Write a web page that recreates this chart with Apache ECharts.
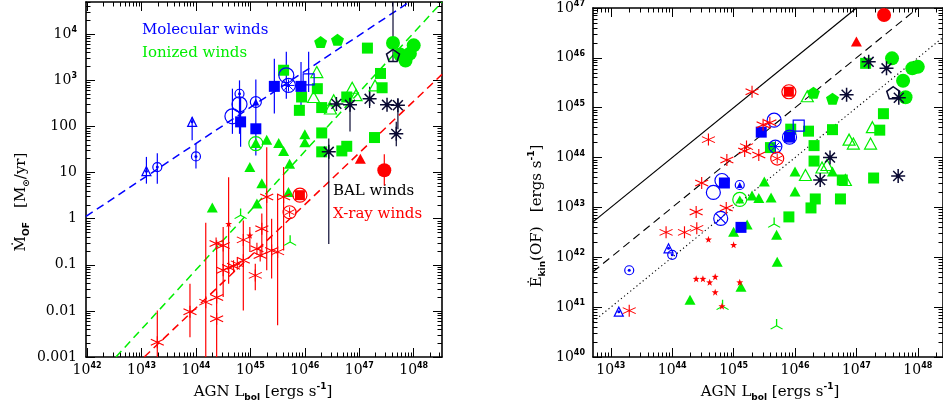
<!DOCTYPE html>
<html><head><meta charset="utf-8">
<script src="https://cdn.jsdelivr.net/npm/echarts@6/dist/echarts.min.js"></script>
<style>html,body{margin:0;padding:0;background:#fff}#c{width:943px;height:410px}</style>
</head><body><div id="c"></div>
<script>
// ---------------- DATA (log10 values) ----------------
// LEFT PANEL: x = log10 Lbol, y = log10 Mdot
const molSqL      = [[44.82,2.10],[45.10,1.95],[45.44,2.87],[45.93,2.87]];
const molOpenCircL= [[44.67,2.22],[44.80,2.48],[45.66,3.11]];
const molCircDotL = [[43.29,1.12],[44.00,1.35],[44.80,2.71]];
const molTriDotL  = [[43.09,1.03],[43.93,2.10]];
const molCircTriL = [[45.10,2.53]];
const molWheelL   = [[45.70,2.89]];
const molOpenSqL  = [[46.07,3.02]];
const molErrL = [[43.09,0.76,1.34],[43.29,0.76,1.42],[43.93,1.70,2.20],[44.00,1.09,1.63],[44.67,1.84,2.82],
  [44.80,1.84,3.00],[44.82,1.56,2.64],[45.10,1.37,3.02],[45.44,2.28,3.47],[45.66,2.60,3.62],[45.93,2.36,3.40],[46.07,2.75,3.62]];

const ionPentL = [[46.29,3.83],[46.60,3.88]];
const ionCircL = [[47.62,3.81],[47.75,3.56],[47.85,3.43],[48.00,3.76],[47.93,3.58]];
const ionSqL = [[45.61,3.22],[45.94,2.64],[45.90,2.35],[46.23,2.82],[46.31,2.41],[46.31,1.86],[46.31,1.45],
  [46.77,2.64],[46.77,1.57],[46.68,1.47],[47.15,3.70],[47.39,3.15],[47.42,2.84],[47.28,1.76]];
const ionOpenTriL = [[46.22,3.18],[46.16,2.64],[46.53,2.57],[46.47,2.39],[46.87,2.84],[46.94,2.68],[47.29,2.89]];
const ionTriL = [[45.10,1.64],[45.30,1.71],[45.52,1.64],[45.61,1.47],[45.72,1.19],[46.00,1.83],[46.00,1.66],
  [44.99,1.12],[45.21,0.77],[45.12,0.33],[44.30,0.24],[45.70,0.58]];
const ionOpenCircL = [[45.10,1.63]];
const ionTri3L = [[44.82,0.11],[45.73,-0.47]];

const balAstL = [[46.58,2.49],[46.83,2.47],[47.19,2.60],[47.51,2.47],[47.71,2.46],[47.68,1.84],[46.44,1.45]];
const balPentL = [[47.62,3.54]];
const balErrL = [[46.83,1.89,2.60],[47.19,2.40,2.86],[47.71,1.94,2.60],[47.68,1.57,2.10],[46.44,-0.55,1.74],[47.62,3.40,4.70]];

const xrayAstL = [[43.29,-2.68],[43.89,-2.02],[44.18,-1.81],[44.38,-1.71],[44.38,-2.17],[44.37,-0.54],[44.50,-0.58],
  [44.50,-1.12],[44.60,-1.06],[44.69,-1.03],[44.76,-0.98],[44.87,-0.90],[44.87,-0.46],[45.09,-1.23],[45.12,-0.65],
  [45.21,-0.22],[45.18,-0.80],[45.30,0.47],[45.39,-0.69],[45.50,-0.72],[45.61,0.47]];
const xrayStarL = [[44.60,-0.11],[44.99,-0.36]];
const xrayCircAstL = [[45.72,0.14]];
const xraySqCircL = [[45.91,0.51]];
const xrayTriL = [[47.02,1.30]];
const xrayCircL = [[47.46,1.05]];
const xrayErrL = [[43.29,-3,-1.99],[43.89,-2.57,-1.41],[44.18,-3,-0.09],[44.38,-3,-0.47],[44.50,-1.70,-0.18],
  [44.60,-1.41,0.90],[44.87,-1.99,-0.04],[44.99,-0.72,-0.18],[45.09,-1.55,-0.98],[45.21,-0.83,0.11],
  [45.30,-1.12,1.55],[45.39,-1.30,0.00],[45.50,-2.31,0.54],[45.61,-0.69,1.12],[47.46,0.72,1.40]];

// fits (endpoints)
const fitMolL = [[41.98,0.05],[47.92,4.70]];
const fitIonL = [[42.53,-3],[48.52,4.70]];
const fitXrayL = [[43.05,-3],[48.52,3.13]];

// RIGHT PANEL: x = log10 Lbol, y = log10 Ekin
const xrayCircR = [[47.45,46.86]];
const xrayTriR = [[47.00,46.33]];
const xraySqCircR = [[45.90,45.32]];
const xrayAstR = [[45.30,45.32],[45.48,44.66],[45.59,44.70],[44.59,44.36],[45.21,44.22],[45.18,44.13],[45.41,44.05],
  [44.89,43.95],[44.48,43.49],[44.88,42.99],[44.39,42.91],[44.40,42.58],[43.90,42.50],[44.20,42.50],[43.30,40.93]];
const xrayCircAstR = [[45.71,43.98]];
const xrayStarR = [[44.59,42.36],[45.00,42.25],[44.39,41.57],[44.50,41.57],[44.61,41.50],[44.70,41.61],[44.70,41.30],
  [45.10,41.50],[44.81,41.02]];

const molSqR = [[45.45,44.51],[45.91,44.41],[44.85,43.49],[45.12,42.60]];
const molOpenCircR = [[45.66,44.75],[45.91,44.41],[44.67,43.30],[44.81,43.54]];
const molWheelR = [[45.68,44.22]];
const molOpenSqR = [[46.06,44.64]];
const molCircXR = [[44.79,42.78]];
const molCircTriR = [[45.10,43.45]];
const molTriDotR = [[43.94,42.18],[43.13,40.91]];
const molCircDotR = [[44.00,42.05],[43.30,41.74]];

const ionSqR = [[47.15,45.89],[45.93,44.57],[46.22,44.53],[46.61,44.56],[47.44,44.88],[47.38,44.55],[45.60,44.20],
  [46.31,44.24],[46.31,43.93],[46.77,43.55],[47.28,43.59],[46.33,43.17],[46.26,42.99],[46.74,43.17],[45.90,42.81]];
const ionCircR = [[47.58,45.99],[47.91,45.79],[48.00,45.82],[47.76,45.54],[47.80,45.21]];
const ionPentR = [[46.30,45.30],[46.61,45.18]];
const ionOpenTriR = [[46.20,45.23],[47.26,44.61],[46.88,44.36],[46.95,44.28],[47.23,44.28],[46.44,43.80],
  [46.52,43.85],[46.17,43.65],[46.82,43.55]];
const ionTriR = [[46.00,43.72],[46.61,43.72],[46.00,43.32],[45.50,43.52],[45.30,43.24],[45.41,43.19],[45.61,43.20],
  [45.22,42.66],[45.00,42.51],[45.70,42.45],[45.71,41.91],[45.12,41.41],[44.29,41.15]];
const ionOpenCircR = [[45.10,43.16]];
const ionTri3R = [[45.66,42.70],[44.82,41.05],[45.70,40.66]];

const balAstR = [[46.84,45.26],[47.49,45.79],[47.20,45.92],[46.57,44.00],[46.41,43.55],[47.68,43.63],[47.69,45.20]];
const balPentR = [[47.60,45.30]];

const fitSolidR = [[42.71,42.71],[47.00,47.00]];
const fitDashR = [[42.71,41.71],[48.00,47.00]];
const fitDotR = [[42.71,40.71],[48.41,46.41]];

// tick labels
const leftYTickText = ['0.001','0.01','0.1','1','10','100','10^3','10^4'];

// ---------------- CHART ----------------
const BLUE='#0000ff', GREEN='#00ee00', RED='#ff0000', BAL='#0a0a33', BLACK='#000';
const SYM = {
  ast6: 'path://M0,-10L0,10M-8.66,-5L8.66,5M-8.66,5L8.66,-5',
  ast8: 'path://M0,-10L0,10M-10,0L10,0M-7.07,-7.07L7.07,7.07M-7.07,7.07L7.07,-7.07',
  star5: 'path://M0,-10L2.35,-3.24L9.51,-3.09L3.8,1.24L5.88,8.09L0,4L-5.88,8.09L-3.8,1.24L-9.51,-3.09L-2.35,-3.24Z',
  tri3: 'path://M0,0L0,-10M0,0L-8.66,5M0,0L8.66,5',
  pent: 'path://M0,-10L9.51,-3.09L5.88,8.09L-5.88,8.09L-9.51,-3.09Z',
  xc: 'path://M-7,-7L7,7M-7,7L7,-7'
};
const series = [];
function ax(p){ return {xAxisIndex: p*4, yAxisIndex: p*4}; }
function filled(p, data, symbol, size, color, z){
  series.push(Object.assign({type:'scatter', data, symbol, symbolSize:size, silent:true, animation:false,
    itemStyle:{color, borderWidth:0, opacity:1}, z: z||5}, ax(p)));
}
function open(p, data, symbol, size, color, bw, z){
  series.push(Object.assign({type:'scatter', data, symbol, symbolSize:size, silent:true, animation:false,
    itemStyle:{color:'rgba(0,0,0,0)', borderColor:color, borderWidth:bw||1.2, opacity:1}, z: z||5}, ax(p)));
}
function errs(p, data, color, w){
  series.push(Object.assign({type:'custom', data, silent:true, animation:false, clip:true, z:3,
    encode:{x:0, y:[1,2]},
    renderItem:function(params, api){
      const a = api.coord([api.value(0), api.value(1)]);
      const b = api.coord([api.value(0), api.value(2)]);
      return {type:'line', shape:{x1:a[0], y1:a[1], x2:b[0], y2:b[1]}, style:{stroke:color, lineWidth:w||1.2}};
    }}, ax(p)));
}
function fit(p, data, color, type, w){
  series.push(Object.assign({type:'line', data, symbol:'none', silent:true, animation:false, z:2,
    lineStyle:{color, width:w, type}}, ax(p)));
}

// left panel
errs(0, molErrL, BLUE); errs(0, balErrL, BAL); errs(0, xrayErrL, RED);
fit(0, fitMolL, BLUE, [8,5], 1.5); fit(0, fitIonL, GREEN, [8,5], 1.5); fit(0, fitXrayL, RED, [8,5], 1.5);
filled(0, ionPentL, SYM.pent, [13,12], GREEN);
filled(0, ionCircL, 'circle', 14, GREEN);
filled(0, ionSqL, 'rect', 11, GREEN);
open(0, ionOpenTriL, 'triangle', [12,11], GREEN, 1.2);
filled(0, ionTriL, 'triangle', [11,10], GREEN);
open(0, ionOpenCircL, 'circle', 14, GREEN, 1.2);
open(0, ionTri3L, SYM.tri3, [12,10], GREEN, 1.2);
filled(0, molSqL, 'rect', 11, BLUE, 6);
open(0, molOpenCircL, 'circle', 15, BLUE, 1.2, 6);
open(0, molCircDotL, 'circle', 9, BLUE, 1.2, 6); filled(0, molCircDotL, 'circle', 3, BLUE, 6);
open(0, molTriDotL, 'triangle', [9,9], BLUE, 1.2, 6); filled(0, molTriDotL, 'circle', 3, BLUE, 6);
open(0, molCircTriL, 'circle', 11, BLUE, 1.2, 6); filled(0, molCircTriL, 'triangle', [7,7], BLUE, 6);
open(0, molWheelL, 'circle', 14, BLUE, 1.2, 6); open(0, molWheelL, SYM.ast8, 12, BLUE, 1, 6);
open(0, molOpenSqL, 'rect', 11, BLUE, 1.2, 6);
open(0, balAstL, SYM.ast8, 14, BAL, 1.5, 7); filled(0, balAstL, 'circle', 4, BAL, 7);
open(0, balPentL, SYM.pent, [13,12], BAL, 1.5, 7);
open(0, xrayAstL, SYM.ast6, [13,12], RED, 1.1, 7);
filled(0, xrayStarL, SYM.star5, 7, RED, 7);
open(0, xrayCircAstL, 'circle', 13, RED, 1.2, 7); open(0, xrayCircAstL, SYM.ast6, [10,10], RED, 1, 7);
open(0, xraySqCircL, 'circle', 14, RED, 1.2, 7); filled(0, xraySqCircL, 'rect', 10, RED, 7);
filled(0, xrayTriL, 'triangle', [11,10], RED, 7);
filled(0, xrayCircL, 'circle', 14, RED, 7);

// right panel
fit(1, fitSolidR, BLACK, 'solid', 1.2); fit(1, fitDashR, BLACK, [8,5], 1.1); fit(1, fitDotR, BLACK, [1.2,2.8], 1.1);
filled(1, ionSqR, 'rect', 11, GREEN);
filled(1, ionCircR, 'circle', 14, GREEN);
filled(1, ionPentR, SYM.pent, [13,12], GREEN);
open(1, ionOpenTriR, 'triangle', [12,11], GREEN, 1.2);
filled(1, ionTriR, 'triangle', [11,10], GREEN);
open(1, ionOpenCircR, 'circle', 14, GREEN, 1.2); filled(1, ionOpenCircR, 'triangle', [9,8], GREEN);
open(1, ionTri3R, SYM.tri3, [12,10], GREEN, 1.2);
filled(1, molSqR, 'rect', 11, BLUE, 6);
open(1, molOpenCircR, 'circle', 14, BLUE, 1.2, 6);
open(1, molWheelR, 'circle', 13, BLUE, 1.2, 6); open(1, molWheelR, SYM.ast8, 11, BLUE, 1, 6);
open(1, molOpenSqR, 'rect', 11, BLUE, 1.2, 6);
open(1, molCircXR, 'circle', 14, BLUE, 1.2, 6); open(1, molCircXR, SYM.xc, 10, BLUE, 1.2, 6);
open(1, molCircTriR, 'circle', 9, BLUE, 1.2, 6); filled(1, molCircTriR, 'triangle', [6,6], BLUE, 6);
open(1, molTriDotR, 'triangle', [9,9], BLUE, 1.2, 6); filled(1, molTriDotR, 'circle', 3, BLUE, 6);
open(1, molCircDotR, 'circle', 9, BLUE, 1.2, 6); filled(1, molCircDotR, 'circle', 3, BLUE, 6);
open(1, balAstR, SYM.ast8, 14, BAL, 1.5, 7); filled(1, balAstR, 'circle', 4, BAL, 7);
open(1, balPentR, SYM.pent, [13,12], BAL, 1.5, 7);
open(1, xrayAstR, SYM.ast6, [13,12], RED, 1.1, 7);
filled(1, xrayStarR, SYM.star5, 7, RED, 7);
open(1, xrayCircAstR, 'circle', 13, RED, 1.2, 7); open(1, xrayCircAstR, SYM.ast6, [10,10], RED, 1, 7);
open(1, xraySqCircR, 'circle', 14, RED, 1.2, 7); filled(1, xraySqCircR, 'rect', 10, RED, 7);
filled(1, xrayTriR, 'triangle', [11,10], RED, 7);
filled(1, xrayCircR, 'circle', 14, RED, 7);

// ---------------- AXES ----------------
const tickRich = {
  b:{fontSize:14, fontFamily:'DejaVu Serif', color:'#000', lineHeight:16},
  s:{fontSize:8, fontFamily:'DejaVu Sans', fontWeight:'bold', color:'#000', verticalAlign:'top', lineHeight:16}
};
function majors(lo, hi){ const a=[]; for(let n=Math.ceil(lo); n<=hi; n++) a.push(n); return a; }
function minors(lo, hi){ const a=[]; for(let n=Math.floor(lo); n<=hi; n++) for(let k=2;k<=9;k++){ const v=n+Math.log10(k); if(v>lo && v<hi) a.push(v);} return a; }
function pow10(v){ return '{b|10}{s|' + v + '}'; }
function axisSet(dim, grid, min, max, labelFmt, margin){
  const posA = dim==='x' ? ['bottom','top'] : ['left','right'];
  const out = [];
  posA.forEach((pos, i) => {
    [true,false].forEach(major => {
      out.push({
        type:'value', gridIndex:grid, min, max, position:pos,
        axisLine:{show:major, onZero:false, lineStyle:{color:'#000', width:1.6}},
        axisTick:{show:true, inside:true, length: major?9:4.5, customValues: major?majors(min,max):minors(min,max),
          lineStyle:{color:'#000', width:1}},
        axisLabel:(major && i===0) ? {show:true, customValues:majors(min,max), formatter:labelFmt, rich:tickRich, margin} : {show:false},
        splitLine:{show:false}, silent:true
      });
    });
  });
  return out;
}
const LX = [41.98, 48.52], LY = [-3, 4.7], RX = [42.71, 48.41], RY = [40, 47.0];
const xAxes = [].concat(
  axisSet('x', 0, LX[0], LX[1], pow10, 5),
  axisSet('x', 1, RX[0], RX[1], pow10, 5));
const yAxes = [].concat(
  axisSet('y', 0, LY[0], LY[1], v => { const t = leftYTickText[Math.round(v)+3]; return t.indexOf('^')>0 ? pow10(t.split('^')[1]) : '{b|'+t+'}'; }, 9),
  axisSet('y', 1, RY[0], RY[1], pow10, 8));

const titleRich = {
  m:{fontSize:15, fontFamily:'DejaVu Serif', color:'#000', lineHeight:20},
  sub:{fontSize:9, fontFamily:'DejaVu Sans', fontWeight:'bold', color:'#000', verticalAlign:'bottom', lineHeight:20},
  sup:{fontSize:9, fontFamily:'DejaVu Sans', fontWeight:'bold', color:'#000', verticalAlign:'top', lineHeight:20}
};
function label(x, y, text, color){
  return {type:'text', x, y, silent:true, style:{text, fill:color, fontSize:15, fontFamily:'DejaVu Serif', verticalAlign:'middle'}};
}
const graphics = [
  label(142, 30, 'Molecular winds', BLUE),
  label(142, 53, 'Ionized winds', GREEN),
  label(333, 191, 'BAL winds', BLACK),
  label(333, 214, 'X-ray winds', RED),
  {type:'text', x:263, y:392, silent:true, style:{text:'{m|AGN L}{sub|bol}{m| [ergs s}{sup|-1}{m|]}', rich:titleRich, align:'center', verticalAlign:'middle'}},
  {type:'text', x:770, y:392, silent:true, style:{text:'{m|AGN L}{sub|bol}{m| [ergs s}{sup|-1}{m|]}', rich:titleRich, align:'center', verticalAlign:'middle'}},
  {type:'text', x:21, y:202, rotation:Math.PI/2, silent:true, style:{text:'{m|Ṁ}{sub|OF}{m|   [M}{sub|⊙}{m|/yr]}', rich:titleRich, align:'center', verticalAlign:'middle'}},
  {type:'text', x:537, y:216, rotation:Math.PI/2, silent:true, style:{text:'{m|Ė}{sub|kin}{m|(OF)   [ergs s}{sup|-1}{m|]}', rich:titleRich, align:'center', verticalAlign:'middle'}}
];

const chart = echarts.init(document.getElementById('c'));
chart.setOption({
  animation:false,
  backgroundColor:'#fff',
  grid:[{left:86, top:2, width:356, height:355}, {left:593, top:2, width:350, height:355}],
  xAxis:xAxes, yAxis:yAxes, series, graphic:graphics
});
</script></body></html>
